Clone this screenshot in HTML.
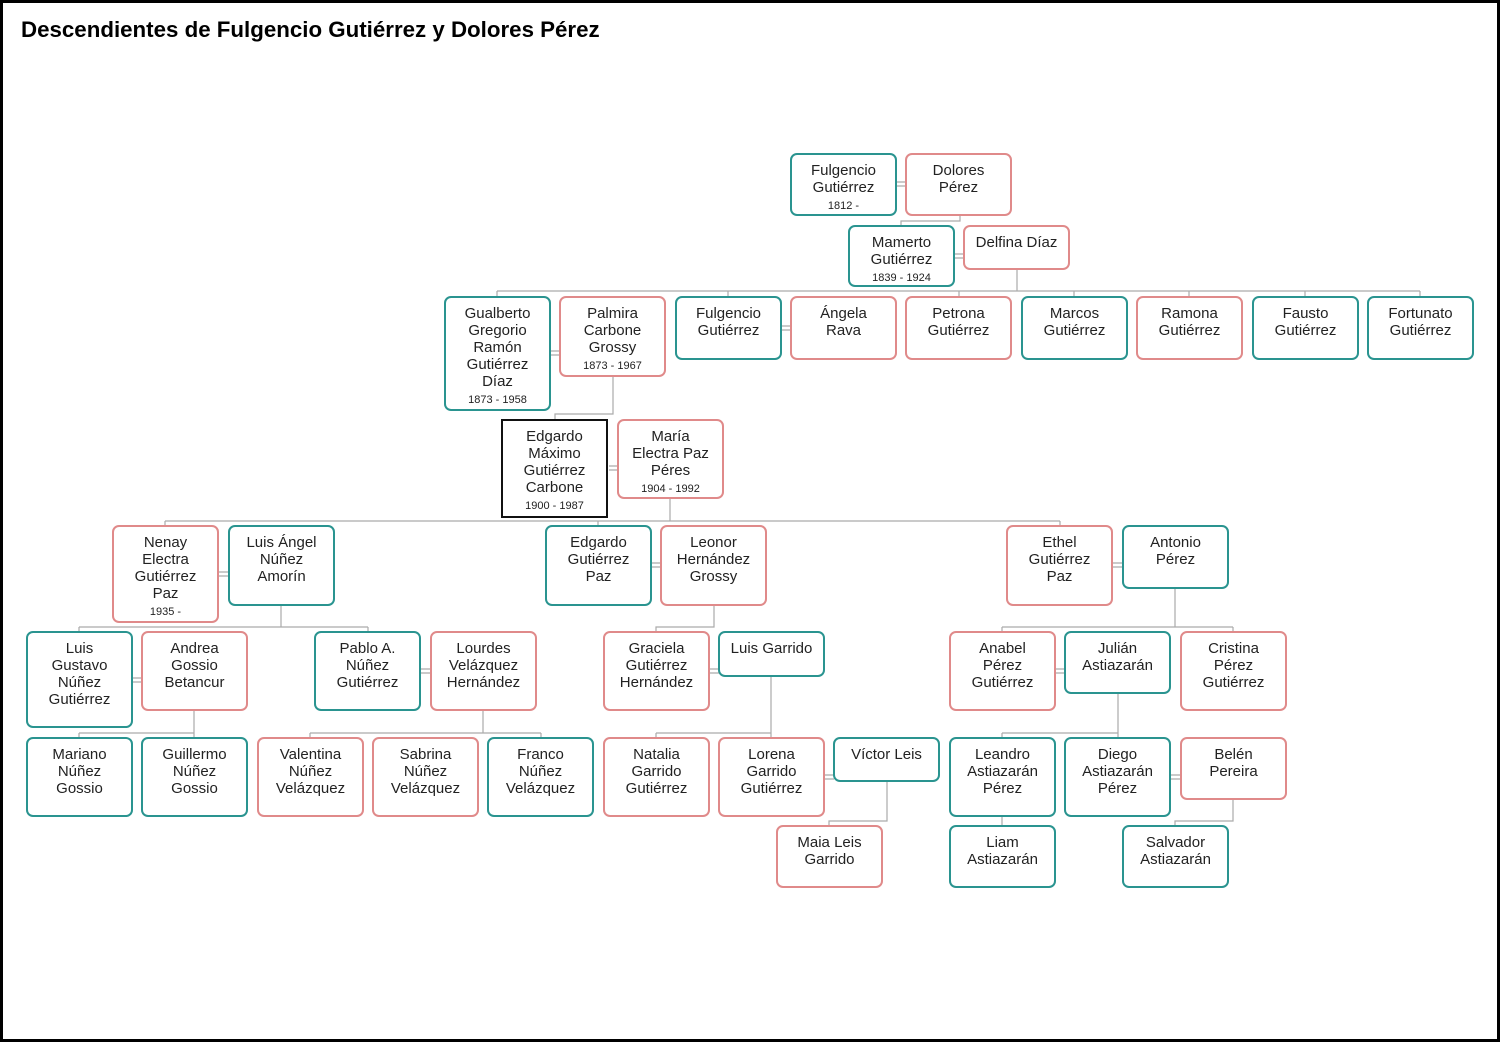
<!DOCTYPE html>
<html><head><meta charset="utf-8"><style>
body{margin:0;width:1500px;height:1042px;background:#fff;position:relative;overflow:hidden;font-family:"Liberation Sans",sans-serif}
#frame{position:absolute;left:0;top:0;width:1500px;height:1042px;box-sizing:border-box;border:3px solid #000}
h1{position:absolute;left:21px;top:17px;margin:0;font-size:22.3px;font-weight:bold;color:#000}
.b{position:absolute;width:107px;box-sizing:border-box;border:2px solid #2a9490;border-radius:7px;text-align:center;font-size:15px;line-height:17px;padding-top:7px;color:#222;background:#fff}
.p{border-color:#e08a8a}
.k{border-color:#111;border-radius:0}
.d{font-size:11px}
svg{position:absolute;left:0;top:0}
</style></head><body>
<div id="frame"></div>
<h1>Descendientes de Fulgencio Gutiérrez y Dolores Pérez</h1>
<svg width="1500" height="1042" stroke="#aaa" stroke-width="1.2" fill="none">
<g>
<path d="M897 182h9M897 186h9"/>
<path d="M955 254h9M955 258h9"/>
<path d="M551 351h9M551 355h9"/>
<path d="M782 326h9M782 330h9"/>
<path d="M609 466h9M609 470h9"/>
<path d="M219 572h9M219 576h9"/>
<path d="M652 563h9M652 567h9"/>
<path d="M1113 563h9M1113 567h9"/>
<path d="M133 678h9M133 682h9"/>
<path d="M421 669h9M421 673h9"/>
<path d="M710 669h9M710 673h9"/>
<path d="M1056 669h9M1056 673h9"/>
<path d="M825 775h9M825 779h9"/>
<path d="M1171 775h9M1171 779h9"/>
</g>
<path d="M960 216v5H901v4"/>
<path d="M1017 270v21M497 291H1420M497 291v5M728 291v5M959 291v5M1074 291v5M1189 291v5M1305 291v5M1420 291v5"/>
<path d="M613 377v37H555v5"/>
<path d="M670 499v22M165 521H1060M165 521v4M598 521v4M1060 521v4"/>
<path d="M281 606v21M79 627H368M79 627v4M368 627v4"/>
<path d="M714 606v21h-58v4"/>
<path d="M1175 589v38M1002 627H1233M1002 627v4M1233 627v4"/>
<path d="M194 711v22M79 733H194M79 733v4M194 733v4"/>
<path d="M483 711v22M310 733H541M310 733v4M541 733v4"/>
<path d="M771 677v56M656 733H771M656 733v4M771 733v4"/>
<path d="M887 782v39h-58v4"/>
<path d="M1118 694v39M1002 733H1118M1002 733v4M1118 733v4"/>
<path d="M1002 817v8"/>
<path d="M1233 800v21h-58v4"/>
</svg>

<div class="b" style="left:790px;top:153px;height:63px">Fulgencio<br>Gutiérrez<br><span class="d">1812 -</span></div>
<div class="b p" style="left:905px;top:153px;height:63px">Dolores<br>Pérez</div>
<div class="b" style="left:848px;top:225px;height:62px">Mamerto<br>Gutiérrez<br><span class="d">1839 - 1924</span></div>
<div class="b p" style="left:963px;top:225px;height:45px">Delfina Díaz</div>

<div class="b" style="left:444px;top:296px;height:115px">Gualberto<br>Gregorio<br>Ramón<br>Gutiérrez<br>Díaz<br><span class="d">1873 - 1958</span></div>
<div class="b p" style="left:559px;top:296px;height:81px">Palmira<br>Carbone<br>Grossy<br><span class="d">1873 - 1967</span></div>
<div class="b" style="left:675px;top:296px;height:64px">Fulgencio<br>Gutiérrez</div>
<div class="b p" style="left:790px;top:296px;height:64px">Ángela<br>Rava</div>
<div class="b p" style="left:905px;top:296px;height:64px">Petrona<br>Gutiérrez</div>
<div class="b" style="left:1021px;top:296px;height:64px">Marcos<br>Gutiérrez</div>
<div class="b p" style="left:1136px;top:296px;height:64px">Ramona<br>Gutiérrez</div>
<div class="b" style="left:1252px;top:296px;height:64px">Fausto<br>Gutiérrez</div>
<div class="b" style="left:1367px;top:296px;height:64px">Fortunato<br>Gutiérrez</div>

<div class="b k" style="left:501px;top:419px;height:99px">Edgardo<br>Máximo<br>Gutiérrez<br>Carbone<br><span class="d">1900 - 1987</span></div>
<div class="b p" style="left:617px;top:419px;height:80px">María<br>Electra Paz<br>Péres<br><span class="d">1904 - 1992</span></div>

<div class="b p" style="left:112px;top:525px;height:98px">Nenay<br>Electra<br>Gutiérrez<br>Paz<br><span class="d">1935 -</span></div>
<div class="b" style="left:228px;top:525px;height:81px">Luis Ángel<br>Núñez<br>Amorín</div>
<div class="b" style="left:545px;top:525px;height:81px">Edgardo<br>Gutiérrez<br>Paz</div>
<div class="b p" style="left:660px;top:525px;height:81px">Leonor<br>Hernández<br>Grossy</div>
<div class="b p" style="left:1006px;top:525px;height:81px">Ethel<br>Gutiérrez<br>Paz</div>
<div class="b" style="left:1122px;top:525px;height:64px">Antonio<br>Pérez</div>

<div class="b" style="left:26px;top:631px;height:97px">Luis<br>Gustavo<br>Núñez<br>Gutiérrez</div>
<div class="b p" style="left:141px;top:631px;height:80px">Andrea<br>Gossio<br>Betancur</div>
<div class="b" style="left:314px;top:631px;height:80px">Pablo A.<br>Núñez<br>Gutiérrez</div>
<div class="b p" style="left:430px;top:631px;height:80px">Lourdes<br>Velázquez<br>Hernández</div>
<div class="b p" style="left:603px;top:631px;height:80px">Graciela<br>Gutiérrez<br>Hernández</div>
<div class="b" style="left:718px;top:631px;height:46px">Luis Garrido</div>
<div class="b p" style="left:949px;top:631px;height:80px">Anabel<br>Pérez<br>Gutiérrez</div>
<div class="b" style="left:1064px;top:631px;height:63px">Julián<br>Astiazarán</div>
<div class="b p" style="left:1180px;top:631px;height:80px">Cristina<br>Pérez<br>Gutiérrez</div>

<div class="b" style="left:26px;top:737px;height:80px">Mariano<br>Núñez<br>Gossio</div>
<div class="b" style="left:141px;top:737px;height:80px">Guillermo<br>Núñez<br>Gossio</div>
<div class="b p" style="left:257px;top:737px;height:80px">Valentina<br>Núñez<br>Velázquez</div>
<div class="b p" style="left:372px;top:737px;height:80px">Sabrina<br>Núñez<br>Velázquez</div>
<div class="b" style="left:487px;top:737px;height:80px">Franco<br>Núñez<br>Velázquez</div>
<div class="b p" style="left:603px;top:737px;height:80px">Natalia<br>Garrido<br>Gutiérrez</div>
<div class="b p" style="left:718px;top:737px;height:80px">Lorena<br>Garrido<br>Gutiérrez</div>
<div class="b" style="left:833px;top:737px;height:45px">Víctor Leis</div>
<div class="b" style="left:949px;top:737px;height:80px">Leandro<br>Astiazarán<br>Pérez</div>
<div class="b" style="left:1064px;top:737px;height:80px">Diego<br>Astiazarán<br>Pérez</div>
<div class="b p" style="left:1180px;top:737px;height:63px">Belén<br>Pereira</div>

<div class="b p" style="left:776px;top:825px;height:63px">Maia Leis<br>Garrido</div>
<div class="b" style="left:949px;top:825px;height:63px">Liam<br>Astiazarán</div>
<div class="b" style="left:1122px;top:825px;height:63px">Salvador<br>Astiazarán</div>
</body></html>
